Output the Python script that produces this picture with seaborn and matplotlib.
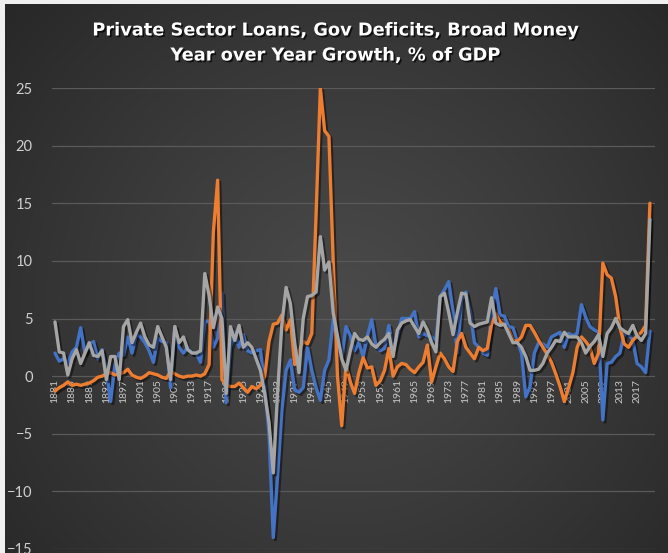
import numpy as np
import pandas as pd
import matplotlib
matplotlib.use("Agg")
import matplotlib.pyplot as plt
import matplotlib.patheffects as pe
import seaborn as sns

years = list(range(1881, 2021))

loans = [
    2.0, 1.3, 1.5, 1.1, 2.1, 2.5, 4.2, 2.0, 2.7, 3.0,      # 1881-1890
    1.5, 2.3, 0.5, -2.2, 1.0, 2.0, 1.8, 3.4, 2.0, 3.6,     # 1891-1900
    3.4, 2.9, 2.2, 1.2, 3.3, 3.0, 2.9, -1.0, 4.3, 2.5,     # 1901-1910
    2.0, 2.5, 2.0, 2.0, 1.2, 4.7, 4.8, 2.5, 3.3, 7.2,      # 1911-1920
    -2.3, 2.5, 3.8, 2.5, 3.6, 2.2, 2.0, 2.2, 2.3, -0.9,    # 1921-1930
    -5.0, -14.0, -8.7, -3.0, 0.5, 1.4, -1.2, -1.4, -1.0, 2.5,  # 1931-1940
    0.5, -1.0, -2.1, 0.5, 1.4, 4.9, 3.0, 1.6, 4.3, 3.5,    # 1941-1950
    2.2, 2.9, 1.7, 3.5, 4.9, 2.6, 2.2, 2.4, 4.4, 2.2,      # 1951-1960
    3.5, 5.0, 5.0, 5.0, 5.6, 3.4, 3.7, 3.5, 3.4, 3.1,      # 1961-1970
    6.9, 7.5, 8.2, 5.6, 2.0, 6.6, 7.3, 5.6, 2.9, 2.5,      # 1971-1980
    2.0, 1.8, 5.4, 7.6, 5.3, 5.2, 4.3, 4.2, 3.0, 2.0,      # 1981-1990
    -1.8, -0.9, 2.0, 2.9, 2.8, 2.5, 3.4, 3.6, 3.8, 2.5,    # 1991-2000
    3.7, 3.5, 3.7, 6.2, 5.1, 4.3, 4.0, 3.8, -3.8, 1.1,     # 2001-2010
    1.2, 1.7, 2.0, 3.7, 3.7, 3.1, 1.1, 0.8, 0.3, 3.9,      # 2011-2020
]

deficits = [
    -1.3, -1.0, -0.8, -0.5, -0.8, -0.7, -0.8, -0.7, -0.6, -0.4,
    -0.1, 0.0, 0.2, 0.3, 0.1, 0.2, 0.3, 0.6, 0.1, -0.1,
    -0.2, 0.0, 0.3, 0.2, 0.1, -0.1, -0.2, 0.4, 0.2, 0.0,
    -0.1, 0.0, 0.0, 0.1, 0.0, 0.2, 1.0, 12.5, 17.0, -0.3,
    -0.8, -0.9, -0.9, -0.6, -1.0, -1.4, -0.9, -1.1, -0.8, 0.0,
    3.0, 4.5, 4.6, 5.3, 4.0, 4.9, 1.0, 2.2, 3.0, 2.8,
    3.7, 14.0, 25.0, 21.3, 20.8, 10.0, 0.0, -4.3, 1.0, -0.5,
    -1.5, 0.3, 1.6, 0.7, 0.8, -0.8, -0.4, 0.5, 2.4, 0.0,
    0.8, 1.1, 1.0, 0.6, 0.3, 0.8, 1.2, 2.7, -0.5, 0.8,
    2.0, 1.5, 0.8, 0.4, 3.0, 3.7, 2.5, 2.0, 1.5, 2.5,
    2.2, 2.4, 4.5, 5.4, 4.7, 4.4, 4.0, 3.1, 3.0, 3.4,
    4.4, 4.4, 3.8, 3.1, 2.5, 1.9, 1.2, 0.2, -0.9, -2.2,
    -1.0, 0.3, 2.5, 3.4, 3.0, 2.5, 1.1, 2.0, 9.8, 8.8,
    8.5, 6.9, 4.2, 2.8, 2.5, 3.1, 3.5, 3.8, 4.4, 15.0,
]

money = [
    4.7, 2.1, 2.0, 0.1, 1.5, 2.3, 1.1, 2.0, 2.9, 1.8,
    1.7, 2.2, -0.3, 1.7, 1.7, -0.3, 4.3, 4.9, 2.9, 3.8,
    4.6, 3.4, 2.7, 2.5, 4.3, 3.4, 2.5, -0.3, 4.3, 2.9,
    3.4, 2.3, 2.0, 2.0, 2.2, 8.9, 7.0, 4.2, 6.0, 5.0,
    -1.5, 4.3, 3.1, 4.4, 2.5, 2.9, 2.5, 1.5, 0.5, -1.5,
    -4.0, -8.4, -1.5, 4.5, 7.7, 6.3, 2.9, 0.3, 5.0, 6.9,
    7.0, 7.3, 12.1, 9.2, 9.9, 5.5, 3.5, 1.5, 0.5, 2.2,
    3.7, 3.2, 3.1, 3.4, 2.8, 2.5, 2.9, 3.2, 3.7, 1.7,
    4.0, 4.6, 4.8, 4.9, 4.3, 3.7, 4.7, 4.0, 2.9, 2.1,
    6.9, 7.2, 5.5, 3.6, 5.5, 7.2, 7.1, 4.6, 4.3, 4.5,
    4.6, 4.7, 6.8, 4.6, 4.4, 4.5, 3.7, 2.9, 2.9, 2.5,
    1.7, 0.5, 0.5, 0.6, 1.1, 2.0, 2.5, 3.1, 3.0, 3.8,
    3.4, 3.4, 3.4, 2.9, 2.0, 2.6, 3.0, 3.6, 1.7, 3.7,
    4.2, 5.0, 4.2, 3.9, 3.7, 4.4, 3.5, 3.1, 3.7, 13.6,
]

series_names = ["Private Sector Loans", "Gov Deficits", "Broad Money"]
colors = ["#4472C4", "#ED7D31", "#A5A5A5"]
yticks = [-15, -10, -5, 0, 5, 10, 15, 20, 25]
xtick_years = list(range(1881, 2018, 4))
title = "Private Sector Loans, Gov Deficits, Broad Money\nYear over Year Growth, % of GDP"

df = pd.DataFrame({
    "year": years * 3,
    "value": loans + deficits + money,
    "series": [series_names[0]] * len(years) + [series_names[1]] * len(years)
              + [series_names[2]] * len(years),
})

sns.set_theme(style="dark")
plt.rcParams['font.family'] = ['Lato', 'DejaVu Sans']

W_PX, H_PX = 668, 553
fig = plt.figure(figsize=(W_PX / 100, H_PX / 100), dpi=100)
fig.patch.set_facecolor('#f0f0f0')

# dark radial-gradient background
bx0, by_top = 5, 4
bw, bh = W_PX - bx0, H_PX - by_top
bg = fig.add_axes([bx0 / W_PX, 0, bw / W_PX, bh / H_PX])
yy, xx = np.mgrid[0:bh, 0:bw]
cx, cy = 345 - bx0, 300 - by_top
r = np.hypot(xx - cx, yy - cy)
rn = r / r.max()
lev = 0.29 - 0.135 * rn ** 1.1
img = np.dstack([lev, lev, lev])
bg.imshow(img, aspect='auto', interpolation='bilinear')
bg.axis('off')

# main axes
left_px, right_px = 52, 655
top_px, bot_px = 88, 549
ax = fig.add_axes([left_px / W_PX, (H_PX - bot_px) / H_PX,
                   (right_px - left_px) / W_PX, (bot_px - top_px) / H_PX])
ax.patch.set_alpha(0)

sns.lineplot(data=df, x="year", y="value", hue="series", hue_order=series_names,
             palette=colors, linewidth=2.4, estimator=None, legend=False, ax=ax)

for i, ln in enumerate(ax.lines):
    ln.set_path_effects([pe.SimpleLineShadow(offset=(1.5, -1.5), shadow_color='black', alpha=0.45),
                         pe.Normal()])
    ln.set_solid_joinstyle('round')
    ln.set_zorder(3 + i * 0.1)

px_per_year = 4.28
x0_year = 1881 + (left_px - 55) / px_per_year
x1_year = 1881 + (right_px - 55) / px_per_year
ax.set_xlim(x0_year, x1_year)
ax.set_ylim(-15, 25)
ax.set_yticks(yticks)
ax.set_xticks(xtick_years)
ax.set_xticklabels([str(y) for y in xtick_years])
ax.set_xlabel("")
ax.set_ylabel("")

for s in ax.spines.values():
    s.set_visible(False)
ax.spines['bottom'].set_position(('data', 0))

ax.yaxis.grid(True, color='#5a5a5a', linewidth=0.9)
ax.xaxis.grid(False)
ax.tick_params(axis='x', length=0, labelrotation=90, labelsize=7.5, colors='#c8c8c8', pad=2)
ax.tick_params(axis='y', length=0, labelsize=10.5, colors='#d0d0d0', pad=14)

fig.text(335 / W_PX, 1 - 43 / H_PX, title, ha='center', va='center',
         fontsize=12.8, fontweight='semibold', color='white', linespacing=1.5,
         family=['DejaVu Sans'],
         path_effects=[pe.SimplePatchShadow(offset=(1.2, -1.2), shadow_rgbFace='black', alpha=0.7),
                       pe.Normal()])

fig.savefig("out.png", dpi=100, facecolor=fig.get_facecolor())
